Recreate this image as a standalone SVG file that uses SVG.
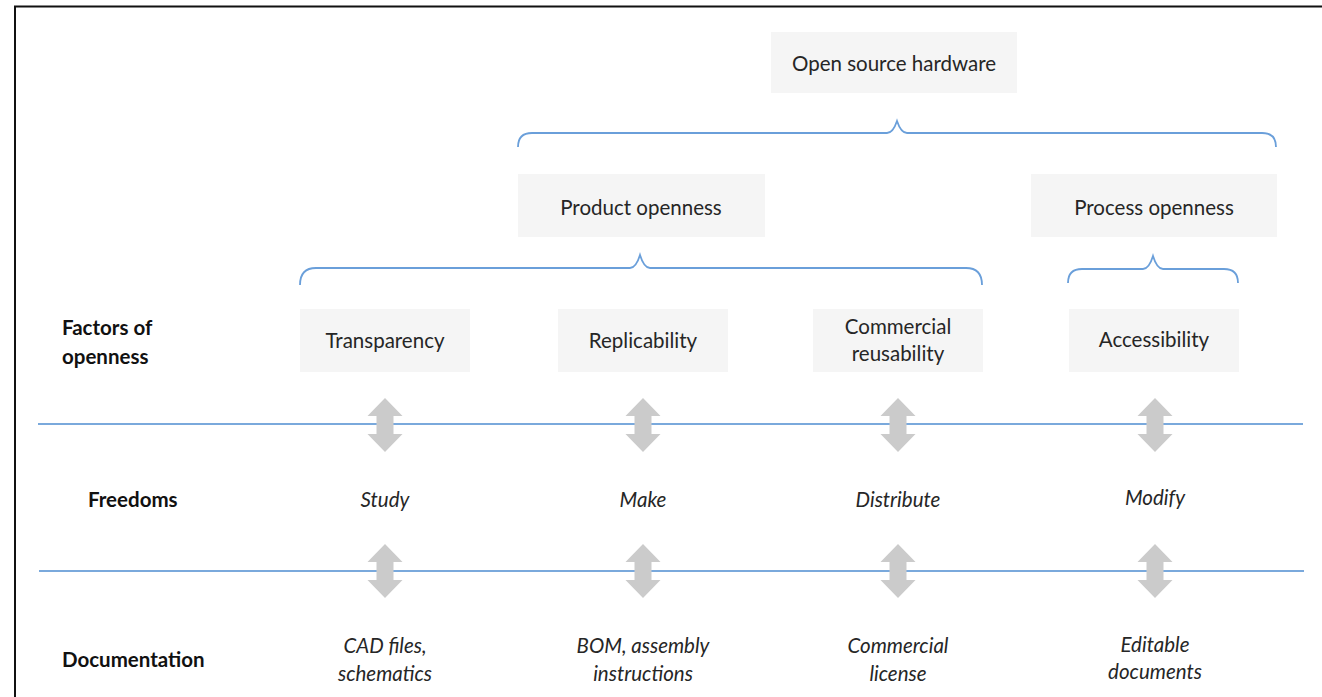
<svg xmlns="http://www.w3.org/2000/svg" width="1322" height="697" viewBox="0 0 1322 697">
<style>
.box{fill:#f5f5f5}
.t{font-family:Lato,"Open Sans",sans-serif;font-size:20.5px;fill:#262626;text-anchor:middle}
.b{font-family:Lato,"Open Sans",sans-serif;font-size:20.5px;font-weight:bold;fill:#111}
.i{font-family:Lato,"Open Sans",sans-serif;font-size:20.5px;font-style:italic;fill:#262626;text-anchor:middle}
.br{fill:none;stroke:#6a9fda;stroke-width:1.8}
.hl{stroke:#7aa9dc;stroke-width:2}
.ar{fill:#cbcbcb}
</style>
<defs>
<path id="dar" d="M0,-27 L17.5,-9 L8.5,-9 L8.5,9 L17.5,9 L0,27 L-17.5,9 L-8.5,9 L-8.5,-9 L-17.5,-9 Z"/>
</defs>
<rect width="1322" height="697" fill="#fff"/>
<path d="M15,697 V6.5 H1322" fill="none" stroke="#111" stroke-width="2"/>

<g id="connectors">
<path class="br" d="M518,147 Q518,133 532,133 H887 Q893,133 897,121 Q901,133 907,133 H1262 Q1276,133 1276,147"/>
<path class="br" d="M300,285 Q300,268 316,268 H630 Q636,268 640,255 Q644,268 650,268 H966 Q982,268 982,285"/>
<path class="br" d="M1068,283 Q1068,269 1082,269 H1143 Q1149,269 1153,256 Q1157,269 1163,269 H1224 Q1238,269 1238,283"/>
<line class="hl" x1="38" y1="424" x2="1303" y2="424"/>
<line class="hl" x1="39" y1="571" x2="1304" y2="571"/>
<g class="ar">
<use href="#dar" x="385" y="425"/>
<use href="#dar" x="643" y="425"/>
<use href="#dar" x="898" y="425"/>
<use href="#dar" x="1155" y="425"/>
<use href="#dar" x="385" y="571"/>
<use href="#dar" x="643" y="571"/>
<use href="#dar" x="898" y="571"/>
<use href="#dar" x="1155" y="571"/>
</g>
</g>

<g id="osh"><rect class="box" x="771" y="32" width="246" height="61"/><text class="t" x="894" y="71">Open source hardware</text></g>
<g id="product"><rect class="box" x="518" y="174" width="247" height="63"/><text class="t" x="641" y="215">Product openness</text></g>
<g id="process"><rect class="box" x="1031" y="174" width="246" height="63"/><text class="t" x="1154" y="215">Process openness</text></g>

<g id="transparency"><rect class="box" x="300" y="309" width="170" height="63"/><text class="t" x="385" y="348">Transparency</text></g>
<g id="replicability"><rect class="box" x="558" y="309" width="170" height="63"/><text class="t" x="643" y="348">Replicability</text></g>
<g id="commercial"><rect class="box" x="813" y="309" width="170" height="63"/><text class="t" x="898" y="334">Commercial</text><text class="t" x="898" y="361">reusability</text></g>
<g id="accessibility"><rect class="box" x="1069" y="309" width="170" height="63"/><text class="t" x="1154" y="347">Accessibility</text></g>

<g id="labels">
<text class="b" x="62" y="335">Factors of</text>
<text class="b" x="62" y="364">openness</text>
<text class="b" x="88" y="507">Freedoms</text>
<text class="b" x="62" y="667">Documentation</text>
</g>

<g id="freedoms">
<text class="i" x="385" y="507">Study</text>
<text class="i" x="643" y="507">Make</text>
<text class="i" x="898" y="507">Distribute</text>
<text class="i" x="1155" y="505">Modify</text>
</g>

<g id="docs">
<text class="i" x="385" y="653">CAD files,</text><text class="i" x="385" y="681">schematics</text>
<text class="i" x="643" y="653">BOM, assembly</text><text class="i" x="643" y="681">instructions</text>
<text class="i" x="898" y="653">Commercial</text><text class="i" x="898" y="681">license</text>
<text class="i" x="1155" y="652">Editable</text><text class="i" x="1155" y="679">documents</text>
</g>
</svg>
